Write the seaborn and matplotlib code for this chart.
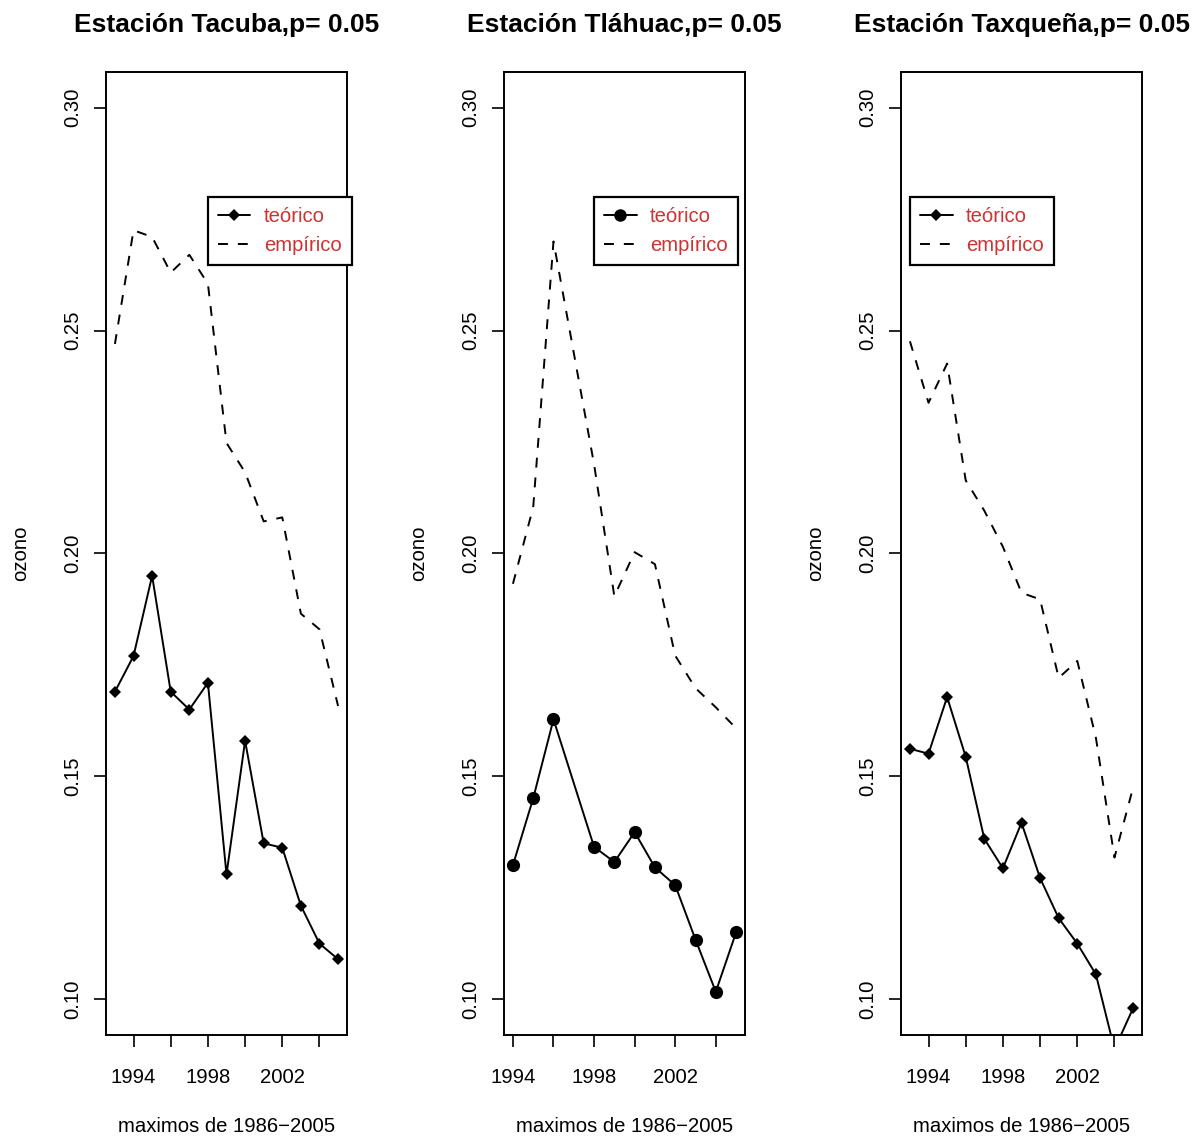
import numpy as np
import pandas as pd
import matplotlib
matplotlib.use("Agg")
import matplotlib.pyplot as plt
from matplotlib.lines import Line2D
import seaborn as sns

sns.set_theme(style="white")
plt.rcParams["font.family"] = ["Liberation Sans", "DejaVu Sans"]
plt.rcParams.update({
    "text.color": "black",
    "axes.labelcolor": "black",
    "axes.titlecolor": "black",
    "xtick.color": "black",
    "ytick.color": "black",
})

# Annual maxima of ozone per station: theoretical (p = 0.05) vs empirical
years_tacuba = [1993, 1994, 1995, 1996, 1997, 1998, 1999, 2000, 2001, 2002, 2003, 2004, 2005]
tacuba_teorico = [0.169, 0.177, 0.195, 0.169, 0.165, 0.171, 0.128, 0.158, 0.135, 0.134, 0.121, 0.1125, 0.109]
tacuba_empirico = [0.247, 0.2725, 0.271, 0.263, 0.267, 0.2605, 0.2248, 0.2182, 0.2072, 0.2081, 0.1865, 0.183, 0.1658]

years_tlahuac = [1994, 1995, 1996, 1998, 1999, 2000, 2001, 2002, 2003, 2004, 2005]
tlahuac_teorico = [0.1301, 0.1451, 0.1628, 0.1342, 0.1308, 0.1375, 0.1296, 0.1256, 0.1134, 0.1017, 0.1150]
tlahuac_empirico = [0.1932, 0.2104, 0.2700, 0.2200, 0.1904, 0.2003, 0.1976, 0.1771, 0.1698, 0.1655, 0.1608]

years_taxquena = [1993, 1994, 1995, 1996, 1997, 1998, 1999, 2000, 2001, 2002, 2003, 2004, 2005]
taxquena_teorico = [0.1562, 0.1551, 0.1678, 0.1544, 0.1360, 0.1294, 0.1396, 0.1272, 0.1182, 0.1125, 0.1056, 0.0888, 0.0980]
taxquena_empirico = [0.2476, 0.2338, 0.2426, 0.2164, 0.2096, 0.2015, 0.1912, 0.1897, 0.1721, 0.1759, 0.1587, 0.1318, 0.1475]

titles = ["Estación Tacuba,p= 0.05", "Estación Tláhuac,p= 0.05", "Estación Taxqueña,p= 0.05"]
xtick_years = [1994, 1996, 1998, 2000, 2002, 2004]
xtick_labels = ["1994", "", "1998", "", "2002", ""]
ytick_vals = [0.10, 0.15, 0.20, 0.25, 0.30]
ytick_labels = ["0.10", "0.15", "0.20", "0.25", "0.30"]
legend_labels = ["teórico", "empírico"]
legend_x = [1998, 1998, 1993]
legend_y = 0.28

panels = [
    (years_tacuba, tacuba_teorico, tacuba_empirico, "D", 6.0),
    (years_tlahuac, tlahuac_teorico, tlahuac_empirico, "o", 9.5),
    (years_taxquena, taxquena_teorico, taxquena_empirico, "D", 6.0),
]

W, H = 1202, 1137
fig = plt.figure(figsize=(W / 100, H / 100), dpi=100)
lefts = [106, 504, 901]
ax_w, top, bottom = 241, 72, 1035

FS = 14.6
LW = 1.4
DASH = (5.1, 5.1)
red = "#CD3333"

for i, (yrs, teo, emp, mk, ms) in enumerate(panels):
    ax = fig.add_axes([lefts[i] / W, 1 - bottom / H, ax_w / W, (bottom - top) / H])
    df = pd.DataFrame({"anio": yrs, "teorico": teo, "empirico": emp})
    sns.lineplot(data=df, x="anio", y="teorico", ax=ax, color="black", lw=LW,
                 marker=mk, markersize=ms, markeredgewidth=0, markerfacecolor="black")
    sns.lineplot(data=df, x="anio", y="empirico", ax=ax, color="black", lw=LW)
    ax.lines[-1].set_dashes(DASH)

    span = yrs[-1] - yrs[0]
    ax.set_xlim(yrs[0] - 0.04 * span, yrs[-1] + 0.04 * span)
    ax.set_ylim(0.1 - 0.008, 0.3 + 0.008)

    ax.set_xticks(xtick_years)
    ax.set_xticklabels(xtick_labels, fontsize=FS)
    ax.set_yticks(ytick_vals)
    ax.set_yticklabels(ytick_labels, fontsize=FS, rotation=90, va="center")
    ax.tick_params(axis="both", direction="out", length=8.5, width=1.2, color="black",
                   bottom=True, left=True)
    ax.tick_params(axis="x", pad=15)
    ax.tick_params(axis="y", pad=8.5)
    for s in ax.spines.values():
        s.set_color("black")
        s.set_linewidth(1.4)

    ax.set_xlabel("maximos de 1986−2005", fontsize=FS, labelpad=22)
    ax.set_ylabel("ozono", fontsize=FS, labelpad=24)
    ax.set_title(titles[i], fontsize=19, fontweight="bold", pad=29)

    handles = [
        Line2D([], [], color="black", lw=LW, marker=mk, markersize=ms * 0.95, markeredgewidth=0),
        Line2D([], [], color="black", lw=LW, dashes=DASH),
    ]
    leg = ax.legend(handles, legend_labels, loc="upper left",
                    bbox_to_anchor=(legend_x[i], legend_y), bbox_transform=ax.transData,
                    fontsize=FS, frameon=True, fancybox=False, framealpha=1.0,
                    borderaxespad=0, handlelength=1.6, handletextpad=0.65,
                    borderpad=0.5, labelspacing=0.5)
    leg.get_frame().set_edgecolor("black")
    leg.get_frame().set_linewidth(1.6)
    for t in leg.get_texts():
        t.set_color(red)

fig.savefig("out.png", dpi=100, facecolor="white")
